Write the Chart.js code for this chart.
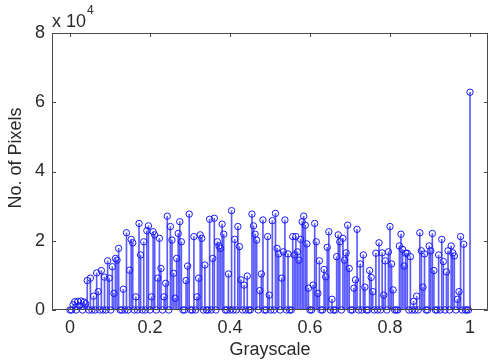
<!DOCTYPE html>
<html>
<head>
<meta charset="utf-8">
<script src="https://cdn.jsdelivr.net/npm/chart.js@4/dist/chart.umd.min.js"></script>
<style>
html,body{margin:0;padding:0;background:#fff;}
#c{display:block;}
</style>
</head>
<body>
<canvas id="c" width="493" height="364"></canvas>
<script>
// Histogram counts for the 256 gray levels
const counts = [
0,0,1500,2400,0,2500,1200,2600,0,2300,
1800,8500,0,9200,0,4000,0,10700,5300,0,
11400,0,9500,0,14200,9200,0,12500,4800,14900,
14400,17800,0,0,6000,0,22300,0,11500,20400,
19400,0,3800,0,25000,15900,0,19700,0,22900,
24300,0,3800,22600,21700,0,9200,20700,12000,0,
3800,7700,27100,0,24100,20200,10600,3400,14900,22100,
25500,19700,0,0,8500,12700,27700,0,0,21200,
0,3800,9200,21700,20700,0,13000,0,0,26200,
0,14900,26500,0,19700,18500,17800,24800,21900,0,
0,10400,0,28700,0,20400,0,24100,18300,8700,
0,7200,0,9800,0,0,27700,24300,21900,20200,
0,5600,10400,26000,0,0,21200,4300,0,25800,
0,27900,17800,16200,0,9200,16800,26000,0,16200,
0,0,21200,15900,21200,16800,14400,20400,25500,27100,
24500,19100,6300,0,0,7200,25000,19700,4800,14200,
0,0,11700,9600,18100,22600,0,3100,0,0,
15400,21700,19700,0,20700,14400,16500,24500,12000,0,
0,6300,8700,23300,0,13300,0,15900,6600,0,
0,11400,9400,5300,0,16400,0,19400,0,16500,
4300,14200,0,16800,24100,13300,5800,0,0,0,
18500,21900,17500,12700,16400,16400,0,15400,0,2500,
0,4000,0,22300,17100,6600,16200,0,0,18500,
17100,22100,11400,0,0,15900,0,20400,14000,0,
11000,17100,0,18500,16500,15600,0,3100,5300,21200,
0,19000,0,0,0,62900
];
// Gray levels (bin centres) 0..1
const levels = counts.map((_, i) => i / 255);
const xTickValues = [0, 0.2, 0.4, 0.6, 0.8, 1];
const yTickValues = [0, 20000, 40000, 60000, 80000];
const xTitle = 'Grayscale';
const yTitle = 'No. of Pixels';

const points = levels.map((x, i) => ({x: x, y: counts[i]}));
const FONT = '"Liberation Sans", Arial, sans-serif';
const TXT = '#2b2b2b';

const framePlugin = {
  id: 'frame',
  afterDraw(chart) {
    const {ctx, chartArea: a, scales} = chart;
    ctx.save();
    ctx.strokeStyle = '#4a4a4a';
    ctx.lineWidth = 1;
    ctx.beginPath();
    ctx.rect(a.left + 0.5, a.top + 0.5, a.right - a.left - 1, a.bottom - a.top - 1);
    ctx.stroke();
    const tl = 4;
    ctx.beginPath();
    xTickValues.forEach(v => {
      const px = Math.round(scales.x.getPixelForValue(v)) + 0.5;
      ctx.moveTo(px, a.bottom); ctx.lineTo(px, a.bottom - tl);
      ctx.moveTo(px, a.top); ctx.lineTo(px, a.top + tl);
    });
    yTickValues.forEach(v => {
      const py = Math.round(scales.y.getPixelForValue(v)) + 0.5;
      ctx.moveTo(a.left, py); ctx.lineTo(a.left + tl, py);
      ctx.moveTo(a.right, py); ctx.lineTo(a.right - tl, py);
    });
    ctx.stroke();
    // y axis title
    ctx.fillStyle = TXT;
    ctx.font = '18px ' + FONT;
    ctx.translate(16, 158);
    ctx.rotate(-Math.PI / 2);
    ctx.textAlign = 'center';
    ctx.textBaseline = 'middle';
    ctx.fillText(yTitle, 0, 0);
    ctx.restore();
    // exponent label
    ctx.save();
    ctx.fillStyle = TXT;
    ctx.textBaseline = 'alphabetic';
    ctx.textAlign = 'left';
    ctx.font = '18px ' + FONT;
    const base = 'x 10';
    ctx.fillText(base, a.left, 27);
    const w = ctx.measureText(base).width;
    ctx.font = '12px ' + FONT;
    ctx.fillText('4', a.left + w + 1, 14);
    ctx.restore();
  }
};

new Chart(document.getElementById('c'), {
  type: 'bar',
  data: {
    datasets: [
      {
        type: 'line',
        data: points,
        showLine: false,
        pointStyle: 'circle',
        pointRadius: 3.2,
        pointBorderWidth: 1,
        pointBorderColor: '#1a1aff',
        pointBackgroundColor: 'rgba(0,0,0,0)',
        order: 0,
        clip: false
      },
      {
        type: 'bar',
        data: points,
        backgroundColor: '#5c5cff',
        borderWidth: 0,
        barThickness: 1,
        order: 1
      }
    ]
  },
  options: {
    responsive: false,
    animation: false,
    devicePixelRatio: 1,
    layout: {padding: {top: 33, right: 1, left: 0, bottom: 0}},
    plugins: {legend: {display: false}, tooltip: {enabled: false}},
    scales: {
      x: {
        type: 'linear',
        min: -0.045,
        max: 1.045,
        offset: false,
        afterBuildTicks: s => { s.ticks = xTickValues.map(v => ({value: v})); },
        afterFit: s => { s.height = 54; },
        grid: {display: false, drawTicks: false},
        border: {display: false},
        ticks: {
          callback: v => String(Math.round(v * 10) / 10),
          font: {size: 18, family: FONT},
          color: TXT,
          padding: 7,
          maxRotation: 0,
          autoSkip: false
        },
        title: {
          display: true,
          text: xTitle,
          font: {size: 18, family: FONT},
          color: TXT,
          padding: {top: 0, bottom: 3}
        }
      },
      y: {
        min: 0,
        max: 80000,
        afterBuildTicks: s => { s.ticks = yTickValues.map(v => ({value: v})); },
        afterFit: s => { s.width = 52; },
        grid: {display: false, drawTicks: false},
        border: {display: false},
        ticks: {
          callback: v => String(v / 10000),
          font: {size: 18, family: FONT},
          color: TXT,
          padding: 7
        }
      }
    }
  },
  plugins: [framePlugin]
});
</script>
</body>
</html>
